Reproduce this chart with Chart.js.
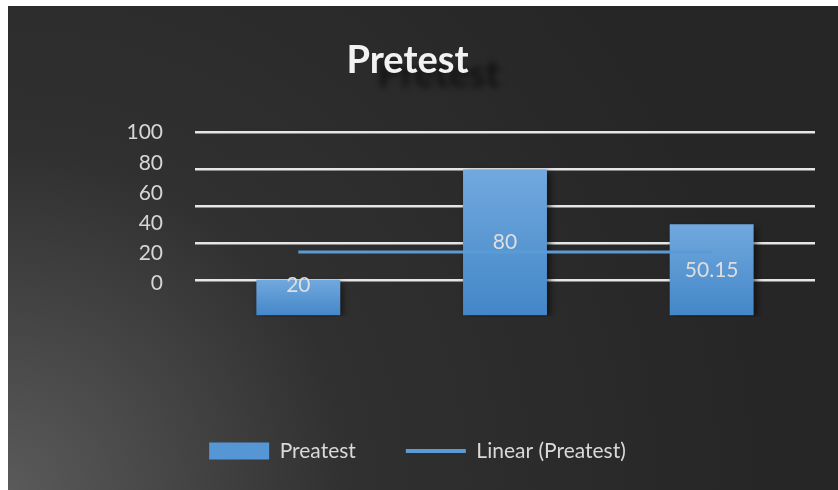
<!DOCTYPE html>
<html><head><meta charset="utf-8">
<script src="https://cdn.jsdelivr.net/npm/chart.js@4"></script>
<style>html,body{margin:0;padding:0;background:#fff;overflow:hidden}</style>
</head><body>
<canvas id="c" width="838" height="490"></canvas>
<script>
// ---- data ----
const categories = ['1', '2', '3'];
const pretestValues = [20, 80, 50.15];
const trendValues = [35.1, 35.1, 35.1];
const valueTicks = [0, 20, 40, 60, 80, 100];
const chartTitle = 'Pretest';
const seriesName = 'Preatest';
const trendName = 'Linear (Preatest)';

const FONT = 'Lato, "Open Sans", sans-serif';
const BLUE = '#5b9bd5';

function barGradient(c) {
  const chart = c.chart;
  const s = chart.scales && chart.scales.y;
  if (c.type !== 'data' || !s || !isFinite(s.top)) return BLUE;
  const top = s.getPixelForValue(c.raw);
  const bottom = s.getPixelForValue(0);
  const g = chart.ctx.createLinearGradient(0, top, 0, bottom);
  g.addColorStop(0, '#71a9de');
  g.addColorStop(1, '#4386c8');
  return g;
}

const bgPlugin = {
  id: 'bg',
  afterLayout(chart) {
    // nudge the legend block to the right, as in the original
    if (chart.legend) { chart.legend.left += 10; chart.legend.right += 10; }
  },
  beforeDraw(chart) {
    const ctx = chart.ctx;
    ctx.save();
    ctx.fillStyle = '#ffffff';
    ctx.fillRect(0, 0, chart.width, chart.height);
    const g = ctx.createRadialGradient(8, 490, 0, 8, 490, 760);
    g.addColorStop(0, '#5a5a5a');
    g.addColorStop(0.45, '#303030');
    g.addColorStop(1, '#262626');
    ctx.fillStyle = g;
    ctx.fillRect(8, 6, chart.width - 8, chart.height - 6);
    // blurred ghost of the title
    const t = chart.titleBlock;
    if (t) {
      ctx.filter = 'blur(3px)';
      ctx.fillStyle = 'rgba(0,0,0,0.6)';
      ctx.font = 'bold 38px ' + FONT;
      ctx.textAlign = 'center';
      ctx.textBaseline = 'middle';
      ctx.fillText(chartTitle, (t.left + t.right) / 2 + 31, (t.top + t.bottom) / 2 + 8);
    }
    ctx.restore();
  }
};

const shadowPlugin = {
  id: 'barShadow',
  beforeDatasetDraw(chart, args) {
    if (args.index !== 0) return;
    const ctx = chart.ctx;
    ctx.save();
    ctx.shadowColor = 'rgba(0,0,0,0.6)';
    ctx.shadowBlur = 7;
    ctx.shadowOffsetX = 3;
    ctx.shadowOffsetY = 3;
  },
  afterDatasetDraw(chart, args) {
    if (args.index !== 0) return;
    chart.ctx.restore();
  }
};

const labelPlugin = {
  id: 'barLabels',
  afterDatasetsDraw(chart) {
    const ctx = chart.ctx;
    const meta = chart.getDatasetMeta(0);
    ctx.save();
    ctx.fillStyle = '#dedede';
    ctx.font = '21px ' + FONT;
    ctx.textAlign = 'center';
    ctx.textBaseline = 'middle';
    meta.data.forEach((el, i) => {
      const h = el.base - el.y;
      const y = h < 50 ? el.y + 6 : (el.y + el.base) / 2;
      ctx.fillText(String(pretestValues[i]), el.x, y);
    });
    ctx.restore();
  }
};

new Chart(document.getElementById('c'), {
  data: {
    labels: categories,
    datasets: [
      {
        type: 'bar',
        label: seriesName,
        data: pretestValues,
        backgroundColor: barGradient,
        borderWidth: 0,
        barPercentage: 0.406,
        categoryPercentage: 1,
        yAxisID: 'y',
        order: 0
      },
      {
        type: 'line',
        label: trendName,
        data: trendValues,
        borderColor: BLUE,
        backgroundColor: BLUE,
        borderWidth: 3,
        pointRadius: 0,
        fill: false,
        yAxisID: 'y',
        order: -1
      }
    ]
  },
  options: {
    responsive: false,
    devicePixelRatio: 1,
    animation: false,
    layout: { padding: { left: 0, right: 23, top: 0, bottom: 18.5 } },
    plugins: {
      tooltip: { enabled: false },
      title: {
        display: true,
        text: chartTitle,
        color: '#f2f2f2',
        font: { family: FONT, size: 38, weight: 'bold' },
        padding: { top: 38, bottom: 49 }
      },
      legend: {
        position: 'bottom',
        labels: {
          color: '#d9d9d9',
          font: { family: FONT, size: 21 },
          usePointStyle: true,
          pointStyleWidth: 60,
          boxHeight: 17,
          padding: 50,
          sort: (a, b) => a.datasetIndex - b.datasetIndex,
          generateLabels(chart) {
            const items = Chart.defaults.plugins.legend.labels.generateLabels(chart);
            items.forEach(it => {
              if (it.datasetIndex === 0) {
                it.pointStyle = 'rect';
                it.fillStyle = '#5696d4';
                it.strokeStyle = '#5696d4';
                it.lineWidth = 0;
              } else {
                it.pointStyle = 'line';
                it.strokeStyle = BLUE;
                it.fillStyle = BLUE;
                it.lineWidth = 4;
              }
            });
            return items;
          }
        }
      }
    },
    scales: {
      x: {
        type: 'category',
        grid: { display: false, drawTicks: false },
        border: { display: false },
        ticks: { display: false },
        afterFit: s => { s.height = 74; }
      },
      y: {
        position: 'left',
        min: 0,
        max: 100,
        ticks: { display: false, stepSize: 20 },
        grid: {
          drawTicks: false,
          lineWidth: 2.4,
          color: c => (c.tick && c.tick.value === 0) ? 'rgba(0,0,0,0)' : '#e6e6e6'
        },
        border: { display: false },
        afterFit: s => { s.width = 0; }
      },
      y2: {
        position: 'left',
        min: -21.8,
        max: 100,
        afterBuildTicks: s => { s.ticks = valueTicks.map(v => ({ value: v })); },
        grid: { display: false, drawTicks: false, drawOnChartArea: false },
        border: { display: false },
        ticks: { color: '#d6d6d6', font: { family: FONT, size: 21 }, padding: 32 },
        afterFit: s => { s.width = 195; }
      }
    }
  },
  plugins: [bgPlugin, shadowPlugin, labelPlugin]
});
</script>
</body></html>
